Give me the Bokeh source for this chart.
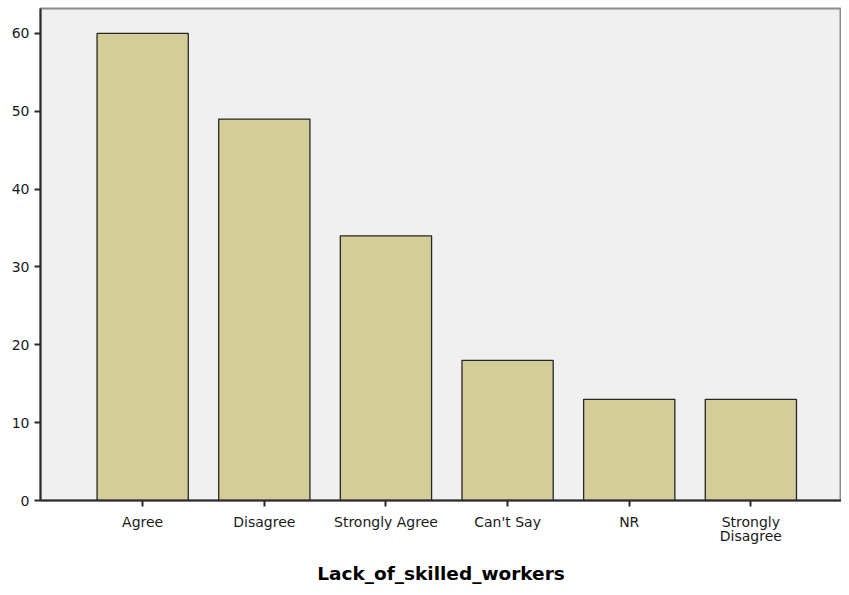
from bokeh.plotting import figure
from bokeh.models import Range1d, FixedTicker, ColumnDataSource
from bokeh.embed import file_html
from bokeh.resources import INLINE

categories = ["Agree", "Disagree", "Strongly Agree", "Can't Say", "NR", "Strongly Disagree"]
tick_labels = ["Agree", "Disagree", "Strongly Agree", "Can't Say", "NR", "Strongly\nDisagree"]
counts = [60, 49, 34, 18, 13, 13]
y_ticks = [0, 10, 20, 30, 40, 50, 60]
x_title = "Lack_of_skilled_workers"

pos = list(range(len(categories)))
src = ColumnDataSource(dict(x=pos, n=counts, cat=categories))

p = figure(
    x_range=Range1d(-0.84, 5.745),
    y_range=Range1d(0, 63.2),
    frame_width=801, frame_height=492,
    min_border_left=40, min_border_right=0, min_border_top=8, min_border_bottom=87,
    output_backend="svg", toolbar_location=None,
    background_fill_color="#f0f0f0", border_fill_color="white",
)
p.vbar(x="x", top="n", width=0.75, source=src,
       fill_color="#d3ce97", line_color="#262626", line_width=1.3)

p.grid.visible = False
p.outline_line_color = "#8c8c8c"
p.outline_line_width = 2

p.yaxis.ticker = FixedTicker(ticks=y_ticks)
p.xaxis.ticker = FixedTicker(ticks=pos)
p.xaxis.major_label_overrides = {i: t for i, t in zip(pos, tick_labels)}
for ax in (p.xaxis[0], p.yaxis[0]):
    ax.axis_line_color = "#2b2b2b"
    ax.axis_line_width = 2
    ax.major_tick_line_color = "#2b2b2b"
    ax.major_tick_line_width = 2
    ax.major_tick_in = 0
    ax.major_tick_out = 6
    ax.minor_tick_line_color = None
    ax.major_label_text_font = "DejaVu Sans"
    ax.major_label_text_color = "#1a1a1a"
p.yaxis.major_label_text_font_size = "14px"
p.xaxis.major_label_text_font_size = "14px"
p.xaxis.major_label_text_line_height = 0.9
p.yaxis.major_label_standoff = 5
p.xaxis.major_label_standoff = 7
p.xaxis.axis_label = x_title
p.xaxis.axis_label_text_font = "DejaVu Sans"
p.xaxis.axis_label_text_font_style = "bold"
p.xaxis.axis_label_text_font_size = "18.5px"
p.xaxis.axis_label_text_color = "black"
p.xaxis.axis_label_standoff = 16

open("out.html", "w").write(file_html(p, INLINE))
